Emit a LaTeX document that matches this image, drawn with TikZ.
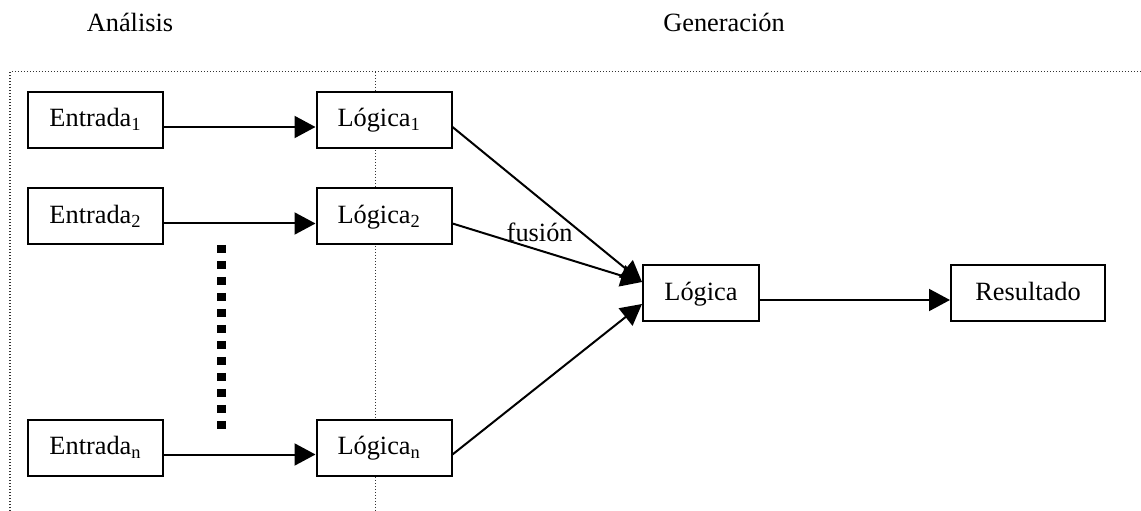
\documentclass[tikz,border=0pt]{standalone}
\usepackage{fontspec}
\setmainfont{Liberation Serif}
\usetikzlibrary{arrows.meta}
\tikzset{
  caja/.style={draw, line width=0.04cm, inner sep=0pt, text height=0.7cm, text depth=0.42cm, minimum width=2.7cm, font=\fontsize{15}{18}\selectfont},
  cajalog/.style={caja, fill=white, text width=1.86cm, align=left, inner xsep=0.42cm},
  flecha/.style={line width=0.04cm, -{Triangle[length=0.42cm, width=0.44cm]}},
  marco/.style={dash pattern=on 0.02cm off 0.04cm, line width=0.02cm, black!80},
  titulo/.style={font=\fontsize{15}{18}\selectfont}
}
\begin{document}
\begin{tikzpicture}
\useasboundingbox (0,0) rectangle (22.82,-10.22);
\draw[marco] (0.2,-10.22) -- (0.2,-1.44) -- (22.82,-1.44);
\draw[marco] (7.5,-1.44) -- (7.5,-10.22);
\node[titulo] (ana) at (2.6,-0.44) {Análisis};
\node[titulo] (gen) at (14.48,-0.44) {Generación};
\node[caja] (e1) at (1.91,-2.40) {Entrada\textsubscript{1}};
\node[caja] (e2) at (1.91,-4.33) {Entrada\textsubscript{2}};
\node[caja] (en) at (1.91,-8.95) {Entrada\textsubscript{n}};
\node[cajalog] (l1) at (7.68,-2.40) {Lógica\textsubscript{1}};
\node[cajalog] (l2) at (7.68,-4.33) {Lógica\textsubscript{2}};
\node[cajalog] (ln) at (7.68,-8.95) {Lógica\textsubscript{n}};
\node[caja, minimum width=2.32cm] (lg) at (14.02,-5.86) {Lógica};
\node[caja, minimum width=3.08cm] (res) at (20.56,-5.86) {Resultado};
\draw[line width=0.18cm, dash pattern=on 0.17cm off 0.15cm] (4.43,-4.9) -- (4.43,-8.6);
\draw[flecha] (e1.base east) -- (l1.base west);
\draw[flecha] (e2.base east) -- (l2.base west);
\draw[flecha] (en.base east) -- (ln.base west);
\draw[flecha] (l1.base east) -- ([yshift=0.22cm]lg.west);
\draw[flecha] (l2.base east) -- ([yshift=0.22cm]lg.west) node[pos=0.46, above=1pt, titulo] (fus) {fusión};
\draw[flecha] (ln.base east) -- ([yshift=-0.22cm]lg.west);
\draw[flecha] (lg.base east) -- (res.base west);
\end{tikzpicture}
\end{document}
